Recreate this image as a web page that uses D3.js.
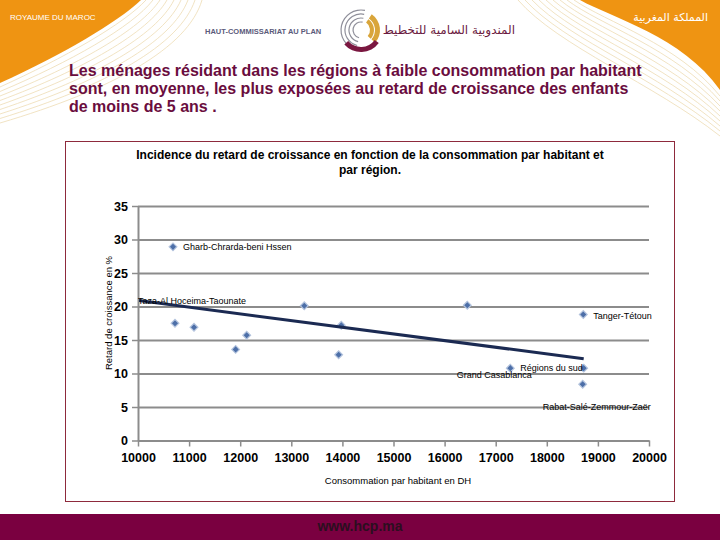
<!DOCTYPE html>
<html><head><meta charset="utf-8">
<script src="https://cdn.jsdelivr.net/npm/d3@7"></script>
<style>
html,body{margin:0;padding:0;background:#fff;}
svg{display:block;}
</style></head>
<body>
<script>
// ---- data ----
const pageTitle = [
  "Les ménages résidant dans les régions à faible consommation par habitant",
  "sont, en moyenne, les plus exposées au retard de croissance des enfants",
  "de moins de 5 ans ."
];
const chartTitle = [
  "Incidence du retard de croissance en fonction de la consommation par habitant et",
  "par région."
];
const xTitle = "Consommation par habitant en DH";
const yTitle = "Retard de croissance en %";
const xTicks = [10000, 11000, 12000, 13000, 14000, 15000, 16000, 17000, 18000, 19000, 20000];
const yTicks = [0, 5, 10, 15, 20, 25, 30, 35];
const regionLabels = ["Taza-Al Hoceima-Taounate", "Gharb-Chrarda-beni Hssen", "", "", "", "", "", "", "", "", "Tanger-Tétoun", "Grand Casablanca", "Régions du sud", "Rabat-Salé-Zemmour-Zaër"];
const consumption = [9805, 10685, 10724, 11096, 11911, 12127, 13254, 13978, 13927, 16444, 18714, 17286, 18722, 18702];
const stunting = [20.8, 28.9, 17.5, 16.9, 13.6, 15.7, 20.1, 17.2, 12.8, 20.2, 18.8, 10.8, 10.8, 8.4];
const trendX = [10000, 18722];
const trendY = [20.9, 12.2];

// ---- layout ----
const W = 720, H = 540;
const svg = d3.select("body").append("svg").attr("width", W).attr("height", H);

// header decorations
const orange = "#ef9412", cream = "#eedcb4";
svg.append("path").attr("d", "M0,0 H141 C118,22 62,55 0,83 Z").attr("fill", orange);
const wl = svg.append("g").attr("fill", "none").attr("stroke", cream).attr("stroke-width", 0.8);
for (let i = 0; i < 9; i++) {
  wl.append("path").attr("d", `M${146 + i * 7},0 C${124 + i * 8},${24 + i * 3} ${64 + i * 6},${58 + i * 4} 0,${87 + i * 4.5}`);
}
svg.append("path").attr("d", "M580,0 C612,18 682,36 720,90 V0 Z").attr("fill", orange);
for (let i = 0; i < 9; i++) {
  wl.append("path").attr("d", `M${574 - i * 7},0 C${606 - i * 6},${22 + i * 3} ${678 - i * 3},${44 + i * 5} 720,${96 + i * 5}`);
}
svg.append("text").attr("x", 10).attr("y", 20).attr("fill", "#fff")
  .style("font", "8px 'Liberation Sans', Arial, sans-serif").text("ROYAUME DU MAROC");
svg.append("text").attr("x", 708).attr("y", 21).attr("text-anchor", "end").attr("fill", "#fff")
  .style("font", "11px 'DejaVu Sans', sans-serif").text("المملكة المغربية");
svg.append("text").attr("x", 205).attr("y", 34).attr("fill", "#5b5b7b")
  .style("font", "bold 7.5px 'Liberation Sans', Arial, sans-serif").text("HAUT-COMMISSARIAT AU PLAN");
svg.append("text").attr("x", 515).attr("y", 34).attr("text-anchor", "end").attr("fill", "#6b1a40")
  .style("font", "12px 'DejaVu Sans', sans-serif").text("المندوبية السامية للتخطيط");
// logo
const logo = svg.append("g").attr("transform", "translate(361,30)").attr("fill", "none");
[20, 16, 12, 8].forEach((r, i) => {
  logo.append("path").attr("d", d3.arc()({innerRadius: r - 0.6, outerRadius: r + 0.6, startAngle: -2.9, endAngle: 0.2}))
    .attr("fill", "#8f8f9a");
});
[[19, 14], [13, 9]].forEach(([ro, ri]) => {
  logo.append("path").attr("d", d3.arc()({innerRadius: ri, outerRadius: ro, startAngle: 0.6, endAngle: 2.3})).attr("fill", "#d9a53a");
});
logo.append("path").attr("d", d3.arc()({innerRadius: 17, outerRadius: 22, startAngle: 2.2, endAngle: 4.0})).attr("fill", "#7a1740");

// page title
svg.append("g").selectAll("text").data(pageTitle).join("text")
  .attr("x", 69).attr("y", (d, i) => 76 + i * 18)
  .attr("fill", "#6a0d3e")
  .style("font", "bold 16px 'Liberation Sans', Arial, sans-serif")
  .text(d => d);

// chart frame
svg.append("rect").attr("x", 65.5).attr("y", 141.5).attr("width", 609).attr("height", 360)
  .attr("fill", "#fff").attr("stroke", "#8e2a3c").attr("stroke-width", 1);

svg.append("g").selectAll("text").data(chartTitle).join("text")
  .attr("x", 370).attr("y", (d, i) => 159 + i * 15).attr("text-anchor", "middle")
  .attr("fill", "#000")
  .style("font", "bold 12px 'Liberation Sans Narrow', 'Liberation Sans', Arial, sans-serif")
  .text(d => d);

// scales
const x = d3.scaleLinear().domain([10000, 20000]).range([138, 649]);
const y = d3.scaleLinear().domain([0, 35]).range([440.5, 206]);
const gridColor = "#8c8c8c";
const tickFont = "bold 12.5px 'Liberation Sans Narrow', 'Liberation Sans', Arial, sans-serif";

// gridlines
const grid = svg.append("g").attr("transform", "translate(138,0)")
  .call(d3.axisLeft(y).tickValues(yTicks.filter(v => v > 0)).tickSize(-(649 - 138)).tickFormat(""));
grid.select(".domain").remove();
grid.selectAll("line").attr("stroke", gridColor).attr("stroke-width", 2);

// y axis
const yAx = svg.append("g").attr("transform", "translate(138,0)")
  .call(d3.axisLeft(y).tickValues(yTicks).tickSize(6).tickSizeOuter(0).tickPadding(4));
yAx.select(".domain").attr("stroke", gridColor).attr("stroke-width", 2);
yAx.selectAll("line").attr("stroke", gridColor).attr("stroke-width", 1.5);
yAx.selectAll("text").style("font", tickFont).attr("fill", "#000");

// x axis
const xAx = svg.append("g").attr("transform", `translate(0,${y(0)})`)
  .call(d3.axisBottom(x).tickValues(xTicks).tickFormat(d3.format("d")).tickSize(6).tickSizeOuter(0).tickPadding(7));
xAx.select(".domain").attr("stroke", gridColor).attr("stroke-width", 2);
xAx.selectAll("line").attr("stroke", gridColor).attr("stroke-width", 1.5);
xAx.selectAll("text").style("font", tickFont).attr("fill", "#000");

// axis titles
svg.append("text").attr("x", 398).attr("y", 484).attr("text-anchor", "middle")
  .style("font", "9.5px 'Liberation Sans', Arial, sans-serif").attr("fill", "#000").text(xTitle);
svg.append("text").attr("transform", "translate(112,313) rotate(-90)").attr("text-anchor", "middle")
  .style("font", "9.5px 'Liberation Sans', Arial, sans-serif").attr("fill", "#000").text(yTitle);

// clip for plot area
svg.append("clipPath").attr("id", "plot").append("rect")
  .attr("x", 139).attr("y", 190).attr("width", 530).attr("height", 260);

const pts = consumption.map((c, i) => ({x: c, y: stunting[i], label: regionLabels[i]}));

// markers
svg.append("g").attr("clip-path", "url(#plot)").selectAll("path").data(pts).join("path")
  .attr("d", d3.symbol(d3.symbolSquare, 30)())
  .attr("transform", d => `translate(${x(d.x)},${y(d.y)}) rotate(45)`)
  .attr("fill", "#4d6fa8").attr("stroke", "#b4c4de").attr("stroke-width", 1.2);

// trendline
const trend = trendX.map((v, i) => [v, trendY[i]]);
svg.append("path").attr("clip-path", "url(#plot)")
  .attr("d", d3.line().x(d => x(d[0])).y(d => y(d[1]))(trend))
  .attr("fill", "none").attr("stroke", "#1b2a52").attr("stroke-width", 3);

// data labels (placement kept separate from data)
const placement = {
  "Taza-Al Hoceima-Taounate": {dx: 10, dy: 3, anchor: "start"},
  "Gharb-Chrarda-beni Hssen": {dx: 10, dy: 3, anchor: "start"},
  "Tanger-Tétoun": {dx: 10, dy: 4, anchor: "start"},
  "Grand Casablanca": {dx: -16, dy: 10, anchor: "middle"},
  "Régions du sud": {dx: -1, dy: 3, anchor: "end"},
  "Rabat-Salé-Zemmour-Zaër": {dx: 14, dy: 26, anchor: "middle"}
};
svg.append("g").selectAll("text").data(pts.filter(d => d.label)).join("text")
  .attr("x", d => x(d.x) + placement[d.label].dx)
  .attr("y", d => y(d.y) + placement[d.label].dy)
  .attr("text-anchor", d => placement[d.label].anchor)
  .style("font", "9px 'Liberation Sans', Arial, sans-serif").attr("fill", "#000")
  .text(d => d.label);

// footer
svg.append("rect").attr("x", 0).attr("y", 514).attr("width", W).attr("height", 26).attr("fill", "#7a0040");
svg.append("text").attr("x", 360).attr("y", 531).attr("text-anchor", "middle")
  .style("font", "bold 14px 'Liberation Sans', Arial, sans-serif").attr("fill", "#2b0f1f").text("www.hcp.ma");
</script>
</body></html>
